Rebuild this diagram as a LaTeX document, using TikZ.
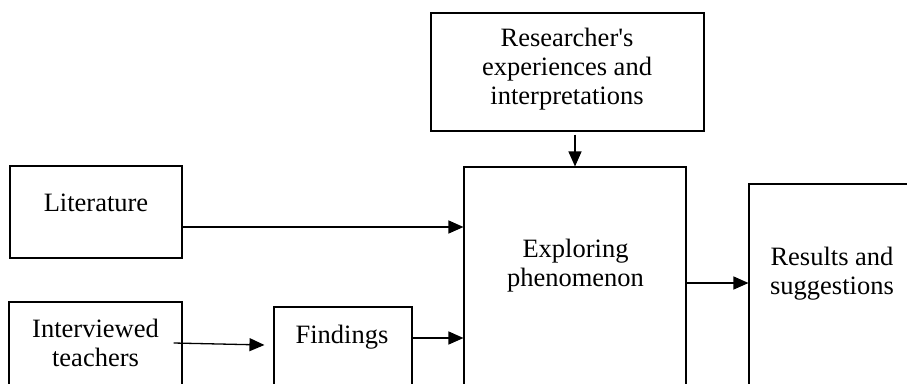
\documentclass[tikz,border=0pt]{standalone}
\usepackage{fontspec}
\setmainfont{Liberation Serif}
\usetikzlibrary{arrows.meta}
\tikzset{
  box/.style={draw, line width=1.1pt, inner sep=0pt},
  txt/.style={align=center, inner sep=0pt, font=\fontsize{26.5}{29}\selectfont},
  link/.style={line width=1.3pt, -{Triangle[length=15pt,width=13pt]}}
}

\begin{document}
\begin{tikzpicture}[x=1pt,y=1pt,yscale=-1]
	\useasboundingbox (0,0) rectangle (907,383);
	\clip (0,0) rectangle (907,383);
	% boxes
	\node[box, minimum width=273pt, minimum height=118pt] (rsch) at (567.5,72) {};
	\node[box, minimum width=172pt, minimum height=92pt] (lit) at (96,212) {};
	\node[box, minimum width=173pt, minimum height=84pt] (intv) at (95.5,344) {};
	\node[box, minimum width=138pt, minimum height=80pt] (find) at (343,347) {};
	\node[box, minimum width=222pt, minimum height=240pt] (expl) at (575,287) {};
	\node[box, minimum width=200pt, minimum height=240pt] (res) at (849,304) {};

	% texts
	\node[txt] (trsch) at (567,69) {Researcher\textquotesingle s\\experiences and\\interpretations};
	\node[txt] (tlit) at (96,203) {Literature};
	\node[txt] (tintv) at (95.5,343) {Interviewed\\teachers};
	\node[txt] (tfind) at (342,337) {Findings};
	\node[txt] (texpl) at (575.5,266) {Exploring\\phenomenon};
	\node[txt] (tres) at (832,274) {Results and\\suggestions};

	% arrows
	\draw[link] ([yshift=3pt]rsch.south -| expl.north) -- (expl.north);
	\draw[link] ([yshift=15pt]lit.east) -- ([yshift=15pt]lit.east -| expl.west);
	\draw[link] ([xshift=-9pt,yshift=-1pt]intv.east) -- ([xshift=-9pt,yshift=-2pt]find.west);
	\draw[link] ([yshift=-9pt]find.east) -- ([yshift=-9pt]find.east -| expl.west);
	\draw[link] ([yshift=-4pt]expl.east) -- ([yshift=-4pt]expl.east -| res.west);
\end{tikzpicture}
\end{document}
